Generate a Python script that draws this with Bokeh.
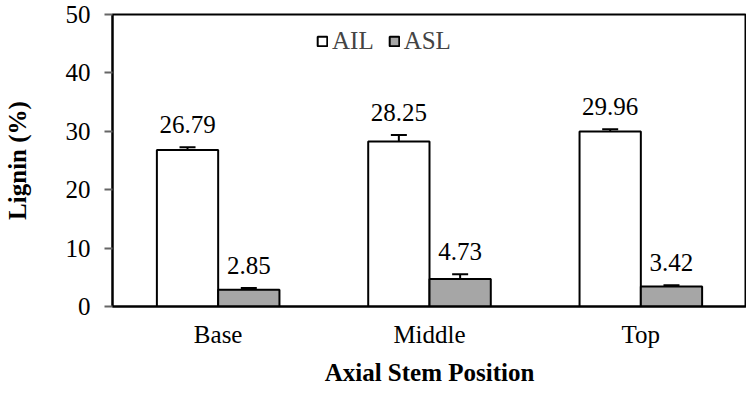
from bokeh.plotting import figure
from bokeh.models import ColumnDataSource, FactorRange, Whisker, TeeHead, Legend, LegendItem
from bokeh.transform import dodge
from bokeh.core.properties import value
from bokeh.embed import file_html
from bokeh.resources import INLINE

categories = ["Base", "Middle", "Top"]
ail = [26.79, 28.25, 29.96]
ail_err = [0.5, 1.1, 0.4]
asl = [2.85, 4.73, 3.42]
asl_err = [0.3, 0.8, 0.2]
y_ticks = [0, 10, 20, 30, 40, 50]

FONT = "Liberation Serif"
FS = "25px"
W = 0.29
OFF = W / 2

src = ColumnDataSource(dict(
    cat=categories,
    ail=ail, ail_lo=[v - e for v, e in zip(ail, ail_err)], ail_hi=[v + e for v, e in zip(ail, ail_err)],
    ail_txt=[f"{v:.2f}" for v in ail],
    asl=asl, asl_lo=[v - e for v, e in zip(asl, asl_err)], asl_hi=[v + e for v, e in zip(asl, asl_err)],
    asl_txt=[f"{v:.2f}" for v in asl],
))

p = figure(width=746, height=388, x_range=FactorRange(factors=categories, range_padding=0),
           y_range=(0, 50), output_backend="svg", toolbar_location=None,
           min_border_left=104, min_border_top=14, min_border_right=0, min_border_bottom=80)

r1 = p.vbar(x=dodge("cat", -OFF, range=p.x_range), top="ail", width=W, source=src,
            fill_color="white", line_color="black", line_width=2)
r2 = p.vbar(x=dodge("cat", OFF, range=p.x_range), top="asl", width=W, source=src,
            fill_color="#a6a6a6", line_color="black", line_width=2)

for col, o in (("ail", -OFF), ("asl", OFF)):
    w = Whisker(base=dodge("cat", o, range=p.x_range), upper=col + "_hi", lower=col + "_lo", source=src,
                line_color="black", line_width=2,
                upper_head=TeeHead(size=16, line_color="black", line_width=2),
                lower_head=TeeHead(size=16, line_color="black", line_width=2))
    p.add_layout(w)
    p.text(x=dodge("cat", o, range=p.x_range), y=col + "_hi", text=col + "_txt", source=src,
           text_font=value(FONT), text_font_size=FS, text_align="center", text_baseline="bottom",
           y_offset=-14, text_color="black")

legend = Legend(items=[LegendItem(label="AIL", renderers=[r1]), LegendItem(label="ASL", renderers=[r2])],
                orientation="horizontal", location=(204, 251), border_line_color=None,
                background_fill_alpha=0, padding=0, margin=0, spacing=14,
                glyph_width=12, glyph_height=12, label_standoff=4,
                label_text_font=FONT, label_text_font_size=FS)
p.add_layout(legend)

p.xgrid.grid_line_color = None
p.ygrid.grid_line_color = None
p.outline_line_color = "black"
p.outline_line_width = 2
p.outline_line_alpha = 1

p.yaxis.ticker = y_ticks
p.yaxis.axis_label = "Lignin (%)"
p.xaxis.axis_label = "Axial Stem Position"
for ax in (p.xaxis[0], p.yaxis[0]):
    ax.axis_line_color = "black"
    ax.axis_line_width = 2
    ax.major_label_text_font = FONT
    ax.major_label_text_font_size = FS
    ax.major_label_text_color = "black"
    ax.axis_label_text_font = FONT
    ax.axis_label_text_font_size = FS
    ax.axis_label_text_font_style = "bold"
    ax.axis_label_text_color = "black"
    ax.minor_tick_line_color = None

p.yaxis.major_tick_out = 8
p.yaxis.major_tick_in = 0
p.yaxis.major_tick_line_color = "#666666"
p.yaxis.major_tick_line_width = 2
p.yaxis.major_label_standoff = 14
p.yaxis.axis_label_standoff = 32

p.xaxis.major_tick_line_color = None
p.xaxis.major_label_standoff = 8
p.xaxis.axis_label_standoff = 8

open("out.html", "w").write(file_html(p, INLINE))
